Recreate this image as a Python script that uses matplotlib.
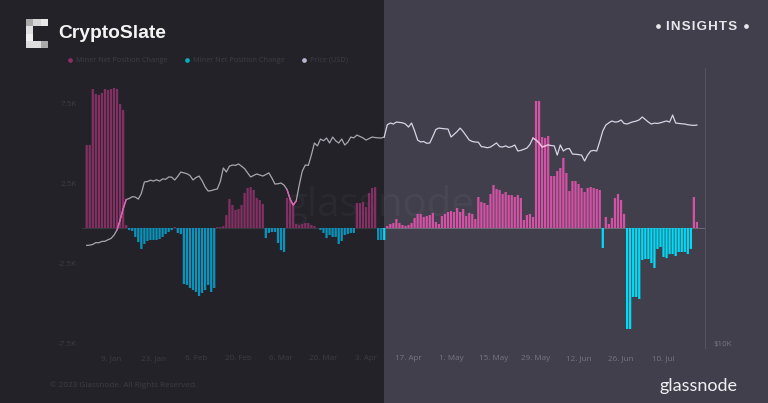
import numpy as np
import pandas as pd
import matplotlib
matplotlib.use('Agg')
import matplotlib.pyplot as plt
from matplotlib.patches import Rectangle
from matplotlib.ticker import NullLocator, FixedLocator
from matplotlib.transforms import Bbox, IdentityTransform, TransformedBbox

# Miner net position change, one value per day from 1 Jan 2023 (BTC)
net_change = [
    5190, 5190, 8690, 8380, 8310, 8440, 8690, 8630, 8690, 8750, 8690, 7750, 7380, 190,
    -130, -190, -560, -880, -1310, -1000, -810, -750, -750, -750, -690, -560, -380, -250, -130,
    60, -310, -380, -3500, -3560, -3750, -3880, -4000, -4250, -4060, -3880, -3560, -4000, -3750,
    60, 60, 120,
    810, 1810, 1440, 1130, 1190, 1440, 2190, 2500, 2560, 2380, 1880, 1750, 1500,
    -630, -310, -250, -250, -940, -1380, -1500,
    1880, 1750, 1560, 250, 190, 250, 310, 310, 190, 120, 0,
    -130, -310, -630, -440, -560, -560, -1000, -810, -440, -380, -310, -310,
    1560, 1560, 1630, 1310, 2190, 2500, 2560,
    -750, -750, -750,
    130, 250, 310, 560, 310, 190, 130, 190, 310, 630, 880, 880, 690, 750, 810,
    940, 380, 250, 750, 880, 1000, 1060, 1000, 1250, 1000, 1190, 750, 940, 880, 560,
    1940, 1630, 1560, 1440, 2130, 2690, 2440, 2380, 2130, 2250, 2060, 2060, 1940, 2060, 1880,
    500, 810, 880, 690, 7940, 7940, 5690, 5630, 5750, 3250, 3250, 3560, 3750, 4380, 3440,
    2310, 2940, 2940, 2750, 2500, 2250, 2500, 2560, 2500, 2440, 2380,
    -1250,
    690, 250, 630, 1880, 2130, 1750, 880,
    -6310, -6310, -4310, -4310, -4440, -2000, -1940, -1940, -2190, -2500, -1310,
    -1190, -1810, -1880, -1630, -1630, -1750, -1500, -1500, -1500, -1630, -1310,
    1940, 380,
]

price = [
    16620, 16640, 16700, 16850, 16840, 16950, 16960, 17090, 17200, 17490, 17950, 18850, 19920, 20850,
    20960, 21150, 21120, 20900, 21500, 22750, 22800, 22950, 22850, 23000, 22850, 23100, 23050, 23320,
    23300, 22970, 23400, 23900, 23800, 23700, 23500, 22980, 23250, 23430, 22900, 22200, 21750, 21800,
    21900, 21970, 22800, 24380, 23900, 24600, 24740, 24700, 24870, 24600, 24300, 23800, 23320, 23500,
    23670, 23550, 23430, 23600, 23800, 23200, 22520, 22550, 22630, 22400, 21900, 20900, 20300, 20700,
    22400, 24000, 24740, 24700, 26000, 27590, 27200, 28140, 27900, 28280, 27590, 28420, 27900, 27590,
    28140, 27320, 27700, 28420, 28300, 28700, 28500, 28300, 28000, 28200, 28420, 28350, 28300, 28280,
    28420, 30200, 30460, 30310, 30610, 30550, 30500, 30310, 29860, 30460, 29300, 28000, 27730, 27800,
    27550, 27600, 28500, 29500, 29710, 29650, 29600, 29570, 28420, 28800, 29200, 29710, 29200, 28600,
    28000, 27800, 27730, 27700, 27100, 27050, 26950, 27050, 27320, 27600, 27100, 27050, 27200, 27000,
    27100, 27320, 26520, 26600, 26750, 26910, 27400, 28280, 28000, 27600, 27050, 27200, 27320, 27250,
    27200, 25990, 27320, 26520, 26800, 26850, 26120, 26100, 26050, 25990, 25240, 26000, 26520, 26600,
    26520, 27800, 29300, 30160, 30500, 30770, 30600, 30650, 30920, 30400, 30310, 30500, 30650, 30750,
    30950, 31390, 31000, 30600, 30310, 30450, 30400, 30500, 30650, 30770, 30610, 31690, 30460, 30400,
    30350, 30310, 30200, 30150, 30100, 30160,
]

date_ticks = ['2023-01-09', '2023-01-23', '2023-02-06', '2023-02-20', '2023-03-06', '2023-03-20', '2023-04-03',
              '2023-04-17', '2023-05-01', '2023-05-15', '2023-05-29', '2023-06-12', '2023-06-26', '2023-07-10']
date_labels = ['9. Jan', '23. Jan', '6. Feb', '20. Feb', '6. Mar', '20. Mar', '3. Apr',
               '17. Apr', '1. May', '15. May', '29. May', '12. Jun', '26. Jun', '10. Jul']
y_ticks = [-7500, -2500, 2500, 7500]
y_labels = ['-7.5K', '-2.5K', '2.5K', '7.5K']
legend_labels = ['Miner Net Position Change', 'Miner Net Position Change', 'Price (USD)']

BG_RIGHT = '#403f4b'
BG_LEFT = '#232228'
PINK_RIGHT = '#d452a5'
PINK_LEFT = '#823063'
CYAN_RIGHT = '#00dcf8'
CYAN_LEFT = '#0a94bc'
DIM_RIGHT = '#777683'
DIM_LEFT = '#3e3d44'
W, H = 768, 403
SPLIT_DAY = 98  # days before this sit on the dark panel

plt.rcParams['font.family'] = ['Open Sans', 'DejaVu Sans']

days = np.arange(len(net_change))
values = np.array(net_change)
left = days < SPLIT_DAY

fig = plt.figure(figsize=(W / 100, H / 100), dpi=100, facecolor=BG_RIGHT)
fig.add_artist(Rectangle((0, 0), 384 / W, 1, transform=fig.transFigure, color=BG_LEFT, lw=0, zorder=-1))

ax1 = fig.add_axes([82 / W, (H - 348) / H, (705 - 82) / W, 280 / H])
ax1.patch.set_alpha(0)
bar_colours = np.where(values > 0, np.where(left, PINK_LEFT, PINK_RIGHT), np.where(left, CYAN_LEFT, CYAN_RIGHT))
ax1.bar(days, values, width=0.74, color=bar_colours, snap=False, lw=0, zorder=3)
ax1.axhline(0, xmax=0.48, color='#3a3940', lw=0.7, zorder=2)
ax1.axhline(0, xmin=0.48, color='#6d6c79', lw=0.7, zorder=2)

# faint watermark, one colour per panel
for colour, box in [(('#2a292f'), Bbox([[0, 0], [384, H]])), ('#474652', Bbox([[384, 0], [W, H]]))]:
    wm = ax1.text(380, H - 205, 'glassnode', transform=None, fontsize=29, color=colour,
                  ha='center', va='center', zorder=1, clip_on=True)
    wm.set_clip_box(TransformedBbox(box, IdentityTransform()))

ax1.set_xlim(-1.55, 203.66)
ax1.set_ylim(-7500, 10000)
start = pd.Timestamp('2023-01-01')
ax1.set_xticks([(pd.Timestamp(d) - start).days for d in date_ticks])
ax1.set_xticklabels(date_labels, fontsize=5.8)
for label, tick in zip(ax1.get_xticklabels(), ax1.get_xticks()):
    label.set_color(DIM_LEFT if tick < SPLIT_DAY else DIM_RIGHT)
ax1.set_yticks(y_ticks)
ax1.set_yticklabels(y_labels, fontsize=5.8, color=DIM_LEFT, va='bottom')
ax1.tick_params(axis='both', length=0)
ax1.tick_params(axis='x', pad=5)
ax1.tick_params(axis='y', pad=4)
for side in ['top', 'left', 'bottom']:
    ax1.spines[side].set_visible(False)
ax1.spines['right'].set_color('#55545f')
ax1.spines['right'].set_linewidth(0.7)

ax2 = ax1.twinx()
ax2.plot(days[:SPLIT_DAY + 1], price[:SPLIT_DAY + 1], color='#a8a6b0', lw=0.9, zorder=4)
ax2.plot(days[SPLIT_DAY:], price[SPLIT_DAY:], color='#d6d4e6', lw=0.9, zorder=4)
# the line turns pink where it crosses the bars
for a, b, colour in [(10, 13, '#e060b4'), (66, 69, '#e060b4'), (147, 152, '#f2b4dc')]:
    ax2.plot(days[a:b + 1], price[a:b + 1], color=colour, lw=1.0, zorder=5)
ax2.set_yscale('log')
ax2.set_ylim(10000, 40000)
ax2.yaxis.set_major_locator(FixedLocator([10000]))
ax2.yaxis.set_minor_locator(NullLocator())
ax2.set_yticklabels(['$10K'], fontsize=5.8, color=DIM_RIGHT, va='bottom')
ax2.tick_params(axis='y', length=0, pad=6)
for side in ['top', 'left', 'bottom', 'right']:
    ax2.spines[side].set_visible(False)

# legend row
for dot_x, dot_colour, label in zip([70, 187, 304], ['#8a2f66', '#00b0bc', '#b8b4d4'], legend_labels):
    fig.add_artist(plt.Line2D([dot_x / W], [1 - 60 / H], marker='o', ms=3.4, color=dot_colour, mec='none'))
    fig.text((dot_x + 6) / W, 1 - 60 / H, label, fontsize=5.3, color=DIM_LEFT, va='center')
fig.text(50 / W, 1 - 385 / H, '© 2023 Glassnode. All Rights Reserved.', fontsize=5.9, color=DIM_LEFT, va='center')

# logo squares
logo_grey = [['#aaaaaa', '#d5d5d5', '#e8e8e8'], ['#e0e0e0', None, None],
             ['#f0f0f0', None, None], ['#dddddd', '#dddddd', '#aaaaaa']]
for r, row in enumerate(logo_grey):
    for c, grey in enumerate(row):
        if grey:
            fig.add_artist(Rectangle(((26 + c * 7.4) / W, 1 - (19 + (r + 1) * 7.3) / H), 7.4 / W, 7.3 / H,
                                     transform=fig.transFigure, color=grey, lw=0))

fig.text(58 / W, 1 - 34 / H, 'CryptoSlate', fontsize=13.9, fontweight='bold', family='Liberation Sans',
         color='#f4f4f4', va='center')
fig.text(666 / W, 1 - 26.5 / H, '\u200a'.join('INSIGHTS'), fontsize=9.6, fontweight='bold',
         family=['Liberation Sans', 'DejaVu Sans'], color='#e8e8ec', va='center')
fig.add_artist(plt.Line2D([658 / W, 746 / W], [1 - 26 / H] * 2, ls='none', marker='o', ms=3.4, color='#e8e8ec',
                          mec='none'))
fig.text(660 / W, 1 - 386 / H, 'glassnode', fontsize=13, family='Lato', color='#f0f0f4', va='center')

fig.savefig('out.png', dpi=100, facecolor=BG_RIGHT)
